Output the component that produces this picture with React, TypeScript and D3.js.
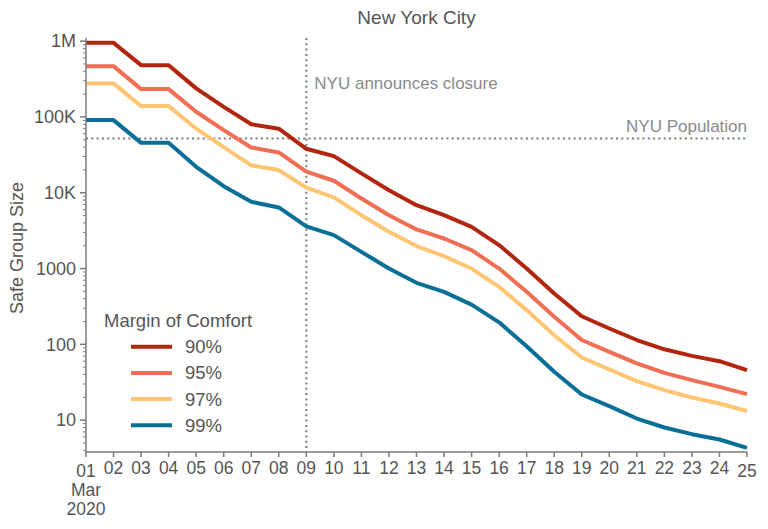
import React from "react";
import * as d3 from "d3";

const days = [1,2,3,4,5,6,7,8,9,10,11,12,13,14,15,16,17,18,19,20,21,22,23,24,25];
const s90 = [950000,950000,482000,482000,238000,136000,80000,70000,38000,30400,18000,10800,6860,5060,3550,2040,1000,469,235,162,114,86,70.5,60,45.7];
const s95 = [468000,468000,233000,233000,117000,67000,39600,34000,19000,14400,8400,5060,3280,2490,1750,1000,493,231,114,79.6,56,42,33.7,27.5,22];
const s97 = [277000,277000,139000,139000,70000,40000,23000,19900,11700,8670,5060,3050,1980,1460,1000,574,283,132,67,46.7,32.7,24.9,19.9,16.6,13.2];
const s99 = [90800,90800,45500,45500,22000,12200,7600,6400,3600,2760,1660,1000,648,493,334,195,94.6,43.4,21.8,15.3,10.5,8.0,6.53,5.56,4.31];
const seriesNames = ["90%","95%","97%","99%"];
const seriesColors = ["#b2250f","#f06e53","#fec572","#0a6f98"];
const yTickValues = [10,100,1000,10000,100000,1000000];
const yTickLabels = ["10","100","1000","10K","100K","1M"];
const nyuPopulation = 52000;
const closureDay = 9;

const FONT = "'Liberation Sans', Arial, Helvetica, sans-serif";

export default function App() {
  const W = 768, H = 529;
  const x = d3.scaleLinear().domain([1, 25]).range([86, 747]);
  const y = d3.scaleLog().domain([3.8, 1.1e6]).range([452, 38]);
  const all = [s90, s95, s97, s99];
  const line = d3.line<number>().x((_, i) => x(days[i])).y((d) => y(d));

  const minor: number[] = [];
  for (let e = 0; e <= 6; e++) {
    for (let m = 2; m <= 9; m++) {
      const v = m * Math.pow(10, e);
      if (v >= 3.8 && v <= 1.1e6) minor.push(v);
    }
  }
  const axisColor = "#7a7a7a";
  const textColor = "#555";

  return (
    <svg width={W} height={H} style={{ position: "absolute", left: 0, top: 0, background: "#fff" }} fontFamily={FONT}>
      <text x={416.5} y={24} textAnchor="middle" fontSize={19} fill={textColor}>New York City</text>
      {/* reference lines */}
      <line x1={x(closureDay)} x2={x(closureDay)} y1={38} y2={452} stroke={axisColor} strokeWidth={2} strokeDasharray="2,3.3" />
      <line x1={86} x2={746} y1={y(nyuPopulation)} y2={y(nyuPopulation)} stroke={axisColor} strokeWidth={2} strokeDasharray="2,3.3" />
      <text x={x(closureDay) + 8} y={89} fontSize={17} fill="#8a8a8a">NYU announces closure</text>
      <text x={747} y={132} textAnchor="end" fontSize={17} fill="#8a8a8a">NYU Population</text>
      {/* lines */}
      {all.map((s, k) => (
        <path key={k} d={line(s) || ""} fill="none" stroke={seriesColors[k]} strokeWidth={4} strokeLinejoin="round" />
      ))}
      {/* y axis */}
      <line x1={86} x2={86} y1={38} y2={452} stroke={axisColor} strokeWidth={1.5} />
      {minor.map((v, i) => (
        <line key={"m" + i} x1={83} x2={86} y1={y(v)} y2={y(v)} stroke={axisColor} strokeWidth={1} />
      ))}
      {yTickValues.map((v, i) => (
        <g key={"y" + i}>
          <line x1={80} x2={86} y1={y(v)} y2={y(v)} stroke={axisColor} strokeWidth={1.5} />
          <text x={76} y={y(v)} dy="0.35em" textAnchor="end" fontSize={18} fill={textColor}>{yTickLabels[i]}</text>
        </g>
      ))}
      <text transform={`translate(23,248) rotate(-90)`} textAnchor="middle" fontSize={18} fill={textColor}>Safe Group Size</text>
      {/* x axis */}
      <line x1={86} x2={747} y1={452} y2={452} stroke={axisColor} strokeWidth={1.5} />
      {days.map((d) => {
        const edge = d === 1 || d === 25;
        return (
          <g key={"x" + d}>
            <line x1={x(d)} x2={x(d)} y1={452} y2={457} stroke={axisColor} strokeWidth={1.5} />
            <text x={x(d)} y={edge ? 477 : 473.5} textAnchor="middle" fontSize={17.5} fill={textColor}>{d3.format("02d")(d)}</text>
          </g>
        );
      })}
      <text x={x(1)} y={495.5} textAnchor="middle" fontSize={17.5} fill={textColor}>Mar</text>
      <text x={x(1)} y={514.5} textAnchor="middle" fontSize={17.5} fill={textColor}>2020</text>
      {/* legend */}
      <text x={104} y={327} fontSize={18.5} fill={textColor}>Margin of Comfort</text>
      {seriesNames.map((n, k) => (
        <g key={"l" + k}>
          <line x1={131} x2={172} y1={346.7 + k * 26.2} y2={346.7 + k * 26.2} stroke={seriesColors[k]} strokeWidth={4} />
          <text x={185} y={346.7 + k * 26.2} dy="0.35em" fontSize={18.5} fill={textColor}>{n}</text>
        </g>
      ))}
    </svg>
  );
}
